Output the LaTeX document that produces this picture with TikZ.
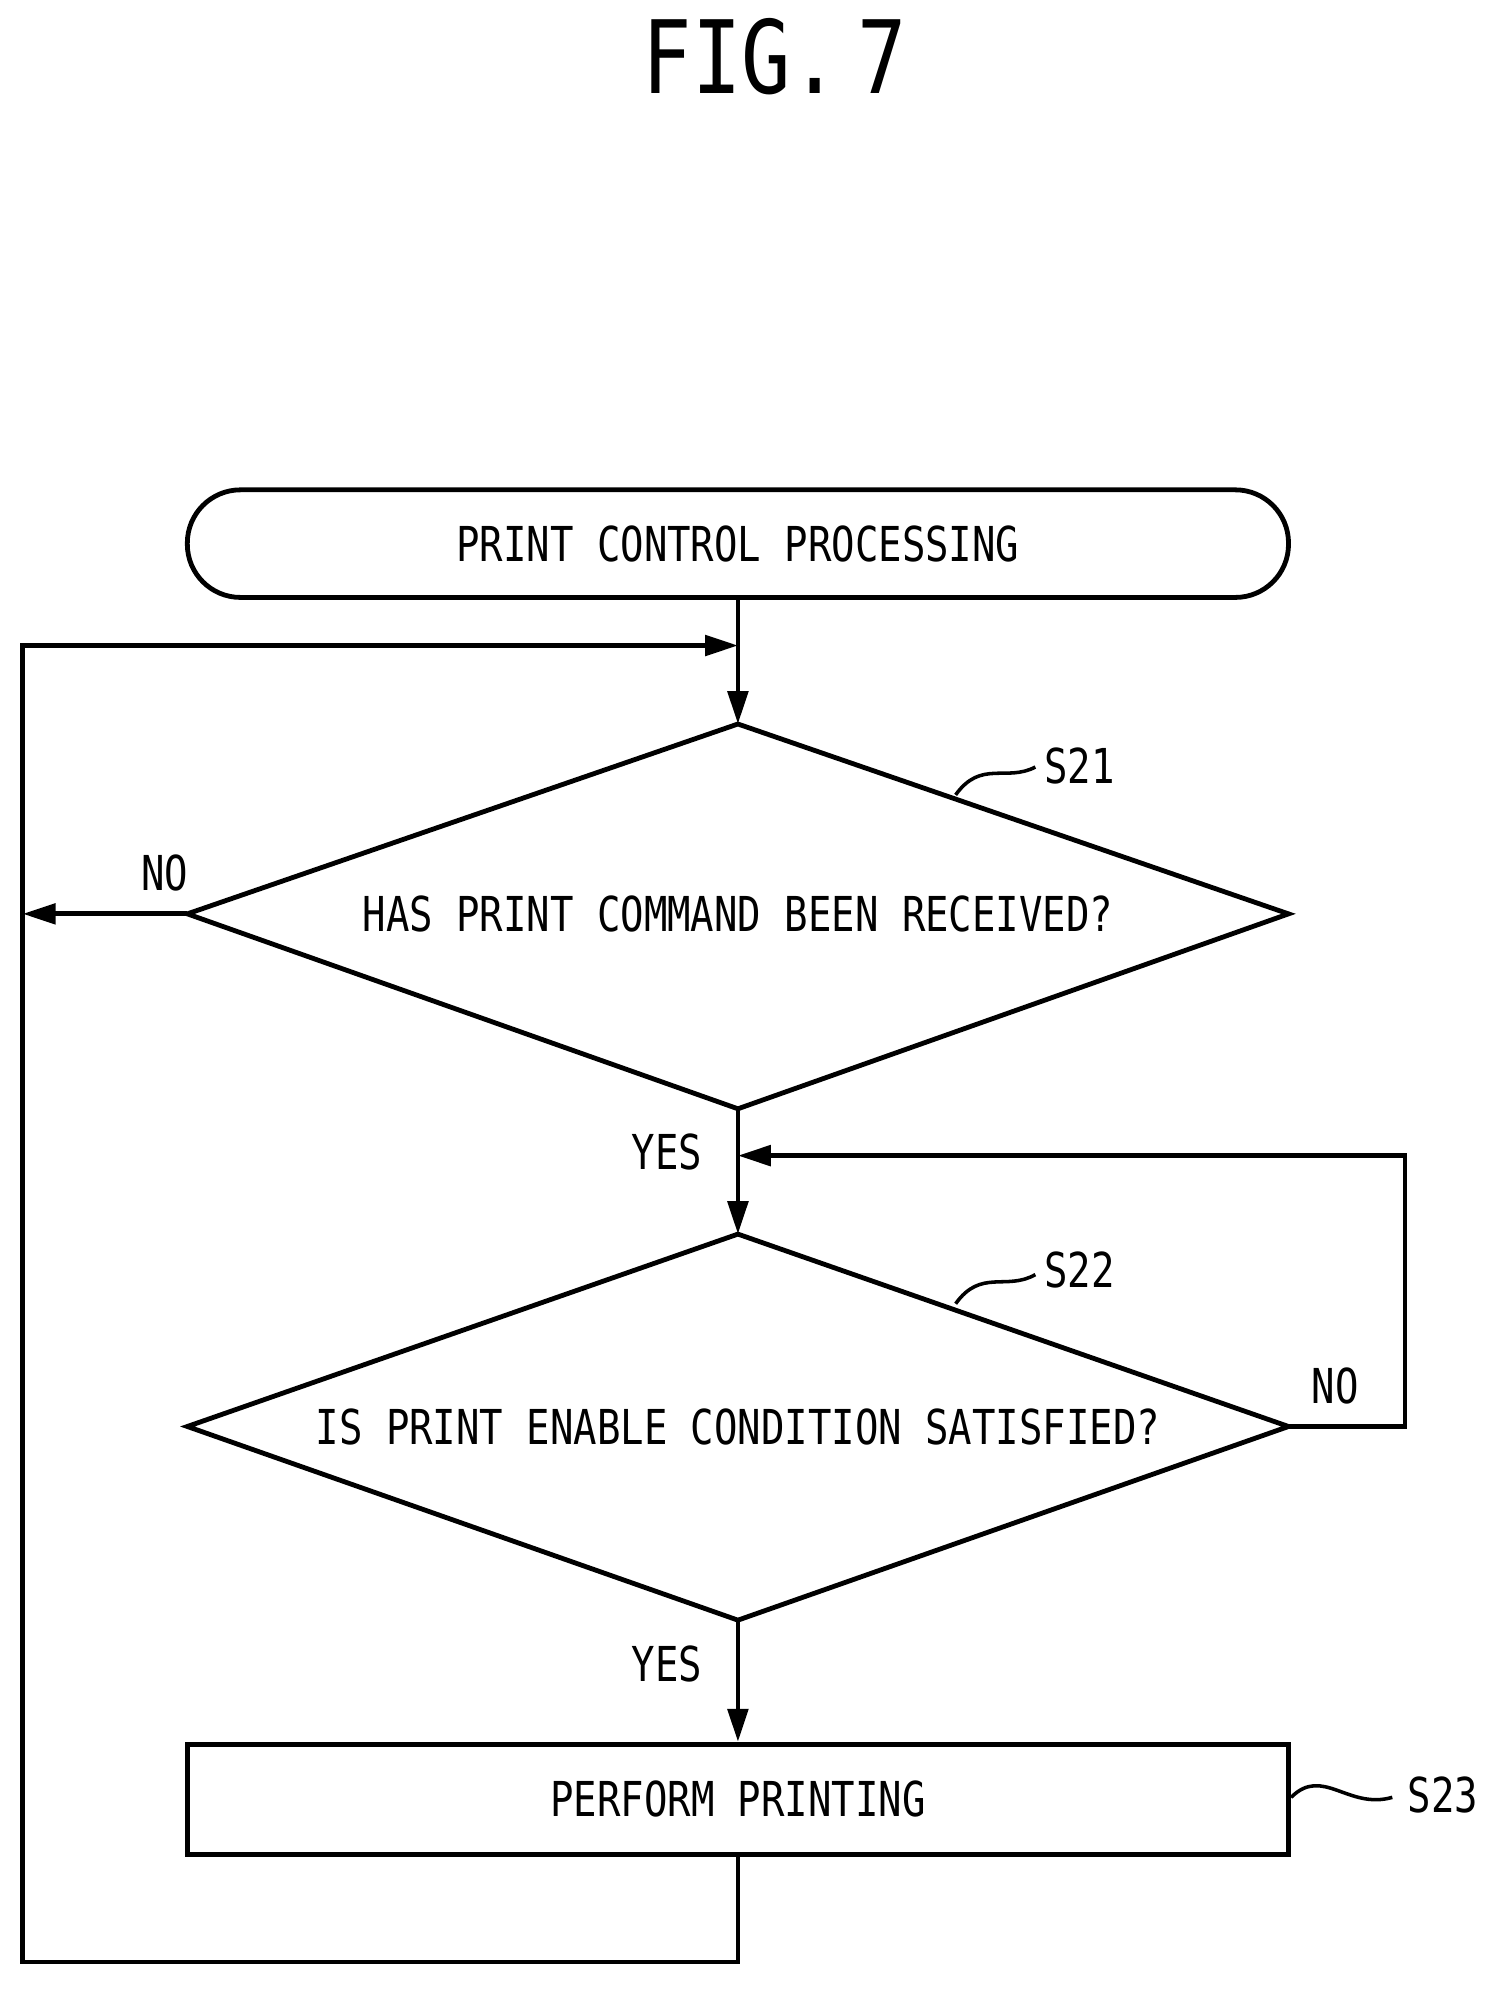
\documentclass[tikz,border=0pt]{standalone}
\usepackage{fontspec}
\setmainfont{DejaVu Sans Mono}[FakeStretch=0.81]
\usetikzlibrary{arrows.meta}
\begin{document}
\begin{tikzpicture}[x=0.5pt,y=-0.5pt,
  line width=1.9pt,
  arr/.style={-{Stealth[length=13pt,width=8pt,inset=0pt]}},
  txt/.style={font=\fontsize{19}{22}\selectfont, inner sep=0pt},
  lbl/.style={font=\fontsize{19}{22}\selectfont, inner sep=0pt}]
\useasboundingbox (0,0) rectangle (1185,1573);
\node[font=\fontsize{40}{46}\selectfont] (title) at (612,45) {FIG.\,7};
\node[draw, rounded corners=21pt, minimum width=435pt, minimum height=42.5pt, txt] (start) at (583,429.5) {PRINT CONTROL PROCESSING};
\coordinate (j1) at (583,510);
\coordinate (d1t) at (583,572); \coordinate (d1l) at (148,722); \coordinate (d1r) at (1018,722); \coordinate (d1b) at (583,876);
\draw (d1t) -- (d1r) -- (d1b) -- (d1l) -- cycle;
\node[txt] (q1) at (583,722) {HAS PRINT COMMAND BEEN RECEIVED?};
\coordinate (d2t) at (583,975); \coordinate (d2l) at (148,1127); \coordinate (d2r) at (1018,1127); \coordinate (d2b) at (583,1280);
\draw (d2t) -- (d2r) -- (d2b) -- (d2l) -- cycle;
\node[txt] (q2) at (583,1127) {IS PRINT ENABLE CONDITION SATISFIED?};
\node[draw, minimum width=435pt, minimum height=43.5pt, txt] (s23) at (583,1421.5) {PERFORM PRINTING};
\coordinate (j2) at (583,913);
\coordinate (lx) at (18,722);
\draw[arr] (start) -- (d1t);
\draw[arr] (d1l) -- (lx);
\draw[arr] (d1b) -- (d2t);
\draw[arr] (d2b) -- (s23.north);
\coordinate (r1) at (1110,1127); \coordinate (r2) at (1110,913);
\draw[arr] (d2r) -- (r1) -- (r2) -- (j2);
\coordinate (b1) at (583,1550); \coordinate (b2) at (18,1550); \coordinate (b3) at (18,510);
\draw[arr] (s23.south) -- (b1) -- (b2) -- (b3) -- (j1);
\node[lbl] (no1) at (130,690) {NO};
\node[lbl] (yes1) at (527,910) {YES};
\node[lbl] (no2) at (1055,1095) {NO};
\node[lbl] (yes2) at (527,1315) {YES};
\node[lbl] (l21) at (853,605) {S21};
\node[lbl] (l22) at (853,1003) {S22};
\node[lbl] (l23) at (1140,1418) {S23};
\draw[line width=1.4pt] (755,628) .. controls (775,600) and (795,618) .. (818,606);
\draw[line width=1.4pt] (755,1030) .. controls (775,1002) and (795,1020) .. (818,1007);
\draw[line width=1.4pt] (1020,1420) .. controls (1045,1395) and (1065,1430) .. (1100,1420);
\end{tikzpicture}
\end{document}
